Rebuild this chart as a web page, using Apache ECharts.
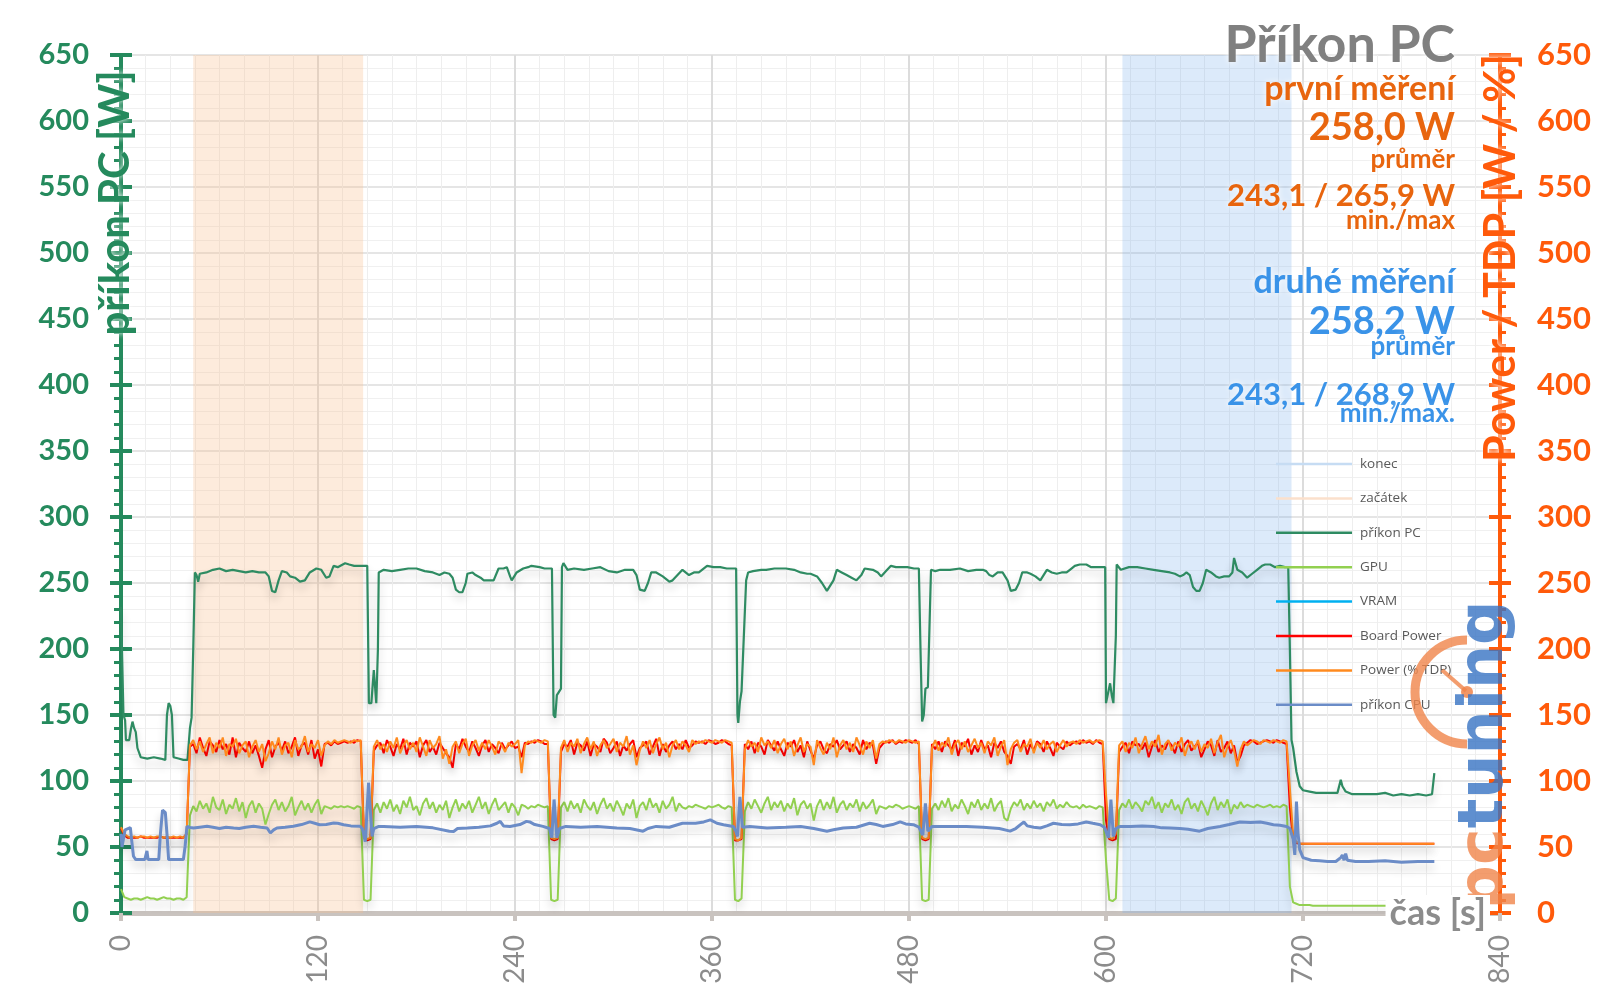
<!DOCTYPE html>
<html>
<head>
<meta charset="utf-8">
<script src="https://cdn.jsdelivr.net/npm/echarts@6/dist/echarts.min.js"></script>
<style>
html,body{margin:0;padding:0;background:#fff;}
#chart{width:1600px;height:1008px;}
</style>
</head>
<body>
<div id="chart"></div>
<script>
// ---- DATA ----
const sampleStep = 2; // seconds between samples of the uniform series below (t = 0..800)

const powerTdp = [
65,60,58,57,58,57,58,58,57,58,
57,58,58,57,58,57,58,57,58,57,
60,127,131,124,130,122,128,133,121,129,
125,133,119,128,126,132,121,127,130,118,
126,131,122,128,115,121,130,124,133,120,
127,129,118,131,124,126,134,122,128,125,
131,119,127,130,128,131,129,130,131,130,
129,131,130,131,58,56,57,126,131,124,
128,122,130,125,133,121,127,131,124,129,
122,133,126,119,131,125,128,134,117,124,
113,126,130,121,128,132,119,127,131,123,
129,124,131,126,120,130,127,122,129,126,
128,131,106,127,130,129,131,130,129,131,
130,57,56,57,125,131,122,129,126,132,
121,128,133,124,130,119,127,131,125,128,
132,122,129,126,134,120,127,112,123,130,
125,131,121,128,133,124,129,118,127,131,
124,130,127,122,131,128,130,129,131,130,
129,131,130,129,131,130,129,56,55,57,
124,131,126,129,122,133,127,130,125,131,
121,128,132,124,130,119,127,133,122,128,
126,112,131,125,120,129,124,133,118,127,
131,124,129,122,133,127,120,130,125,131,
117,128,130,129,131,130,129,131,130,129,
131,130,129,130,57,56,57,125,131,123,
129,126,133,120,128,131,124,130,122,127,
132,125,129,121,130,127,133,119,126,131,
112,124,129,131,122,128,126,132,121,129,
125,131,124,128,130,122,127,131,126,129,
130,128,131,129,130,131,129,130,131,130,
90,57,56,60,127,130,122,129,125,133,
121,128,134,124,130,126,135,120,128,131,
123,129,126,133,119,127,130,124,131,122,
128,125,132,121,129,135,118,126,131,123,
111,124,130,127,129,131,130,128,131,130,
129,131,130,129,131,130,95,58,54,52.5,
52.5,52.5,52.5,52.5,52.5,52.5,52.5,52.5,52.5,52.5,
52.5,52.5,52.5,52.5,52.5,52.5,52.5,52.5,52.5,52.5,
52.5,52.5,52.5,52.5,52.5,52.5,52.5,52.5,52.5,52.5,
52.5,52.5,52.5,52.5,52.5,52.5,52.5,52.5,52.5,52.5,
52.5
];

const boardPower = [
64,59,57,57,57,57,58,57,57,57,
57,57,58,57,57,57,57,57,57,57,
60,126,128,121,133,125,119,130,127,122,
131,124,128,120,133,118,129,125,122,130,
121,127,119,110,124,131,118,126,129,123,
130,121,126,133,119,127,129,120,131,117,
124,111,128,129,127,130,128,129,130,129,
130,129,131,130,57,55,56,123,127,129,
121,131,126,119,128,124,132,120,129,126,
130,118,127,131,122,126,120,129,125,121,
118,110,128,124,132,126,122,130,125,119,
127,131,122,128,125,121,129,124,127,130,
125,126,118,129,128,130,129,131,130,128,
128,56,55,56,122,128,126,131,120,129,
127,123,130,119,128,126,122,132,129,121,
125,130,119,127,123,128,131,118,125,127,
130,120,126,132,119,128,122,127,130,124,
128,124,131,125,127,130,129,130,128,131,
130,128,129,131,130,128,127,55,55,56,
128,124,130,121,129,126,120,131,127,123,
130,124,119,129,126,131,122,127,118,130,
123,117,127,130,124,121,128,126,131,124,
127,130,122,128,125,120,131,124,129,127,
113,125,128,130,129,131,128,130,129,131,
130,129,131,128,56,55,56,128,124,130,
122,130,127,124,131,119,129,126,132,120,
127,122,131,124,127,118,129,125,130,122,
119,113,126,128,124,131,120,128,123,130,
128,122,130,125,119,129,126,124,130,127,
129,130,128,131,129,130,128,131,129,128,
70,56,55,56,122,126,129,121,130,127,
128,124,129,118,126,131,122,127,124,130,
127,121,130,122,128,131,123,126,129,118,
124,130,127,119,131,122,125,130,121,127,
114,119,127,129,131,130,128,129,130,131,
130,129,131,130,129,128,80,55,53,52.5,
52.5,52.5,52.5,52.5,52.5,52.5,52.5,52.5,52.5,52.5,
52.5,52.5,52.5,52.5,52.5,52.5,52.5,52.5,52.5,52.5,
52.5,52.5,52.5,52.5,52.5,52.5,52.5,52.5,52.5,52.5,
52.5,52.5,52.5,52.5,52.5,52.5,52.5,52.5,52.5,52.5,
52.5
];

const gpuPower = [
18,12,11,10,11,11,10,11,12,11,
11,10,11,12,11,11,10,11,11,10,
12,74,81,77,85,79,83,76,88,80,
78,86,75,82,79,87,77,84,72,81,
85,76,83,79,67,75,82,86,78,84,
77,81,88,74,80,85,78,83,76,82,
86,75,81,80,79,81,80,81,80,81,
80,79,81,80,10,9,10,78,83,76,
84,79,86,77,82,75,85,80,88,78,
81,74,83,87,79,84,76,82,78,85,
72,80,86,77,83,79,85,76,82,88,
79,84,75,82,87,78,81,84,76,83,
80,74,82,81,79,81,80,82,81,80,
81,10,9,10,80,84,77,85,79,83,
76,86,81,78,84,75,82,87,79,83,
77,85,80,74,83,79,86,72,81,84,
78,87,80,83,76,85,79,82,88,77,
83,80,79,81,80,82,81,80,79,81,
80,81,82,80,79,81,80,10,9,11,
77,84,79,86,81,76,83,88,78,84,
80,85,77,83,79,87,74,82,85,79,
83,70,81,86,78,84,79,88,76,82,
85,78,83,80,86,77,84,79,82,86,
75,81,80,79,81,80,82,81,79,80,
81,80,79,81,10,9,10,79,83,78,
85,80,87,77,82,79,86,81,75,84,
80,86,78,83,79,87,77,82,85,72,
70,79,84,81,86,78,83,79,85,80,
83,77,84,81,86,79,82,80,84,81,
80,81,79,82,80,81,80,79,81,80,
40,10,9,11,78,83,80,86,79,84,
81,77,85,82,88,79,84,76,83,80,
86,78,82,75,84,87,79,83,77,85,
80,74,83,88,78,84,80,86,75,82,
79,84,80,82,81,80,82,81,80,81,
82,80,81,80,82,81,20,8,7,6,
6,6,6,5.5,5.5,5.5,5.5,5.5,5.5,5.5,
5.5,5.5,5.5,5.5,5.5,5.5,5.5,5.5,5.5,5.5,
5.5,5.5,5.5,5.5,5.5,5.5,5.5,5.5,5.5,5.5,
5.5,5.5,5.5,5.5,5.5,5.5,5.5,5.5,5.5,5.5,
5.5
];

// [time s, W]
const pcPower = [
[0,232],[1.5,150],[2.5,146],[3,131],[5,131],[6,139],[7,145],[8,140],[9,137],[10,125],[12,118],[16,117],[20,118],[24,117],[27,116],[28,150],[29,159],[30,157],[31,150],[32,118],[35,117],[38,116],[40.5,116],[42,140],[43,148],[44,200],[45,258],[46,256],[47,251],[48,257],[52,258],[56,260],[60,261],[64,259],[68,260],[72,259],[76,258],[80,259],[84,258],[88,258],[90,255],[92,244],[94,243],[96,252],[98,259],[101,258],[103,255],[106,254],[109,251],[112,252],[115,258],[119,261],[122,260],[125,254],[127,255],[129.5,263],[132,262],[136.5,265],[139,264],[142,263],[146,263],[150,263],[151,159],[152.5,159],[154,184],[155.5,159],[156.5,200],[157,258],[160,260],[165,259],[170,260],[175,261],[180,261],[185,259],[190,258],[194,256],[197,258],[200,257],[202,254],[204,245],[206,243],[208,243],[210,250],[211,257],[214,258],[216,256],[219,254],[221,252],[224,252],[227,252],[230,261],[233,261],[235,262],[237,255],[238,252],[240,256],[241,258],[245,261],[248,262],[250,263],[255,262],[258,261],[262.5,261],[263.5,150],[264.5,148],[265.5,165],[266.5,167],[268,170],[268.6,262],[269.5,265],[272,260],[276,261],[282,260],[287,261],[292,262],[297,259],[302,258],[307,260],[312,260],[314,256],[316,245],[319,244],[321,250],[323,258],[326,258],[330,255],[334,251],[336,252],[339,256],[342,260],[346,256],[349,258],[352,258],[357,263],[361,262],[365,262],[369,261],[374.7,261],[375.5,150],[376,144],[377,160],[378,168],[379,168],[380.8,252],[382,258],[385,259],[390,260],[393,260],[398,261],[405,261],[410,260],[414,258],[418,257],[420,257],[424,255],[427,250],[430,244],[432,248],[434,252],[436,260],[439,258],[442,256],[445,254],[448,252],[451,256],[453,261],[458,260],[461,258],[463,255],[466,259],[469,263],[472,262],[476,262],[479,262],[483,261],[486,261],[487,200],[488,145],[489,150],[490,170],[491.5,171],[493.4,260],[496,259],[499,260],[505,260],[511,261],[516,259],[521,260],[525,260],[527,259],[529,256],[531,255],[534,258],[537,258],[540,252],[542,244],[545,245],[547,250],[549,258],[552,258],[554,257],[557,255],[560,252],[562,256],[564,260],[567,258],[570,257],[573,258],[576,258],[578,260],[581,263],[584,264],[588,264],[591,262],[594,262],[599.5,262],[600,159],[601,159],[602.5,174],[603.5,165],[604.5,159],[605.5,159],[606,210],[606.5,264],[609,260],[614,262],[619,262],[624,261],[629,260],[634,259],[639,258],[642,257],[645,255],[647,256],[649,258],[651,256],[653,247],[655,244],[657,244],[659,250],[661,260],[664,258],[667,255],[669,254],[672,255],[675,255],[677,258],[678,269],[679,268],[680,260],[683,258],[686,254],[689,257],[692,260],[695,263],[697,264],[700,264],[703,262],[706,263],[709,262],[711,262],[712,200],[713,131],[714,125],[716,107],[718,96],[720,93],[724,92],[728,91],[732,91],[736,91],[741,91],[742,96],[743,101],[744,96],[746,92],[750,90],[755,90],[760,90],[765,90],[770,91],[775,89],[780,90],[785,89],[790,90],[795,89],[798.6,90],[800,106]
];

const cpuPower = [
[0,60],[0.6,50],[2.5,63],[5.7,64.6],[6.5,55],[7.6,43],[9,40.5],[12.8,40.5],[14.5,40.5],[15.8,47],[16.5,40.5],[20,40.5],[23,40.5],[24,60],[25.3,78],[27,76],[28,60],[29,40.5],[33,40.5],[38,40.5],[39,50],[40.2,65.6],[42,64.8],[44.2,64.4],[48,65],[52.4,65.7],[56,65],[60,64],[64,65],[68.6,64.4],[72,64],[76,65],[80.8,65.7],[85,65],[89,64.4],[91,60.6],[93,63],[95,64.4],[100,65],[105,65.7],[110,67],[115,69],[118,68],[121,66.9],[125,67],[129.5,68.2],[132,68],[135.6,66.9],[140,66],[145.7,65.7],[147,64],[148.8,54],[150.8,98.7],[152.9,58],[154,64],[157,65.6],[160,65.6],[170,65],[180,65.5],[190,64.5],[200,62],[202.6,61.8],[205,64],[211,64.4],[218,65],[225,66],[229,68],[231,69.4],[233,66],[237,65.6],[243,67],[247,69.4],[249,69],[252,67],[257,65.6],[261,64],[262.4,57],[263.8,86],[265.5,57],[267,64],[271,65.6],[280,65],[290,65.5],[302,64.4],[310,64],[318,62],[321,64],[326,65.6],[334,65],[342,68],[350,68],[355,69],[359,70.6],[363,68],[367,66.9],[373,65.6],[374.5,62],[375.5,58],[377,88],[378.5,65],[383,65.6],[393.5,64.4],[405,65],[414,65.6],[422,64],[430,62],[434,63],[440,64.4],[448,65],[456,68],[460,67],[464,65.6],[470,67],[474.6,69],[478,67.5],[482.7,66.9],[486,65],[488.4,59],[490,83],[491.5,62],[494,65.6],[500,65.6],[515,65.6],[525,65],[535,64],[541.6,62],[545,64],[550,69],[552,66],[556,65],[560,64.4],[564,66],[568,68],[573,67],[578,66.9],[583,67.5],[588,69],[592,68],[596.5,66.9],[599,65],[601.5,57],[603,86],[604.5,58],[606,64],[608.6,65.6],[615,65.6],[622,66],[629,65.6],[634,64.5],[639,64.4],[645,64],[650,63.5],[657,62],[662,64],[669.5,65.6],[675,67],[681.6,69],[688,68.5],[694,69],[698,68],[702,66.9],[706,66.5],[710,65.6],[712,64],[714,56],[715,44],[716,84.5],[717,60],[718,48],[720,42],[725,40],[730,39.5],[735,39],[740,39],[743,42],[744,44],[745,40],[746,45],[747,40],[752,39],[760,39],[770,39.5],[780,38.5],[790,39],[800,39]
];

const startBand = [44, 147.5];  // "začátek"
const endBand = [610, 713];     // "konec"

const legendNames = ['konec', 'začátek', 'příkon PC', 'GPU', 'VRAM', 'Board Power', 'Power (% TDP)', 'příkon CPU'];

const firstRun = ['první měření', '258,0 W', 'průměr', '243,1 / 265,9 W', 'min./max'];
const secondRun = ['druhé měření', '258,2 W', 'průměr', '243,1 / 268,9 W', 'min./max.'];

// ---- BUILD ----
function uniform(arr) { return arr.map((v, i) => [i * sampleStep, v]); }

const GREEN = '#258a5d';
const ORANGE = '#ff5a0a';
const ANN_OR = '#e8650e';
const ANN_BL = '#3a93e8';
const FONT = 'Lato, "Open Sans", sans-serif';

const shadow = { shadowColor: 'rgba(0,0,0,0.2)', shadowBlur: 9, shadowOffsetY: 6 };

function lineSeries(name, data, color, width, yIdx) {
  return {
    name, type: 'line', data, yAxisIndex: yIdx || 0,
    symbol: 'none', showSymbol: false, smooth: false,
    lineStyle: Object.assign({ color, width }, shadow),
    itemStyle: { color }, animation: false
  };
}

const chart = echarts.init(document.getElementById('chart'), null, { renderer: 'canvas' });

const glow = { textShadowColor: '#ffffff', textShadowBlur: 6 };

function annText(text, y, size, color) {
  return {
    type: 'text', x: 1455, y, z: 50,
    style: Object.assign({ text, fill: color, font: 'bold ' + size + 'px ' + FONT, align: 'right', verticalAlign: 'middle' }, glow)
  };
}

const option = {
  backgroundColor: '#ffffff',
  animation: false,
  grid: { left: 121, right: 100, top: 55, bottom: 95, containLabel: false },
  legend: {
    orient: 'vertical', left: 1271, top: 452,
    icon: 'rect', itemWidth: 76, itemHeight: 2.5, itemGap: 20.4,
    data: legendNames,
    textStyle: { color: '#595959', fontSize: 13.5, lineHeight: 14, fontFamily: '"Open Sans", sans-serif', padding: [0, 0, 0, 3] }
  },
  xAxis: {
    type: 'value', min: 0, max: 840, interval: 120,
    axisLine: { show: true, onZero: false, lineStyle: { color: '#c9c3bf', width: 5 } },
    axisTick: { show: true, length: 8, lineStyle: { color: '#c9c3bf', width: 4 } },
    minorTick: { show: true, splitNumber: 8, length: 0 },
    axisLabel: { rotate: 90, margin: 22, color: '#8c8c8c', fontSize: 28, fontFamily: FONT },
    splitLine: { show: true, lineStyle: { color: '#dcdcdc', width: 2 } },
    minorSplitLine: { show: true, lineStyle: { color: '#eeeeee', width: 1 } }
  },
  yAxis: [
    {
      type: 'value', min: 0, max: 650, interval: 50, position: 'left',
      axisLine: { show: true, lineStyle: { color: GREEN, width: 4 } },
      axisTick: { show: true, length: 11, lineStyle: { color: GREEN, width: 4 } },
      minorTick: { show: true, splitNumber: 5, length: 7, lineStyle: { color: GREEN, width: 3 } },
      axisLabel: { margin: 32, color: GREEN, fontSize: 29, fontWeight: 'bold', fontFamily: FONT },
      splitLine: { show: true, lineStyle: { color: '#dcdcdc', width: 1.5 } },
      minorSplitLine: { show: true, lineStyle: { color: '#f0f0f0', width: 1 } }
    },
    {
      type: 'value', min: 0, max: 650, interval: 50, position: 'right',
      axisLine: { show: true, lineStyle: { color: ORANGE, width: 4 } },
      axisTick: { show: true, length: 11, lineStyle: { color: ORANGE, width: 4 } },
      minorTick: { show: true, splitNumber: 5, length: 6, lineStyle: { color: ORANGE, width: 3 } },
      axisLabel: { margin: 37, color: ORANGE, fontSize: 31, fontWeight: 'bold', fontFamily: FONT },
      splitLine: { show: false }
    },
    {
      type: 'value', min: 0, max: 650, interval: 50, position: 'left',
      axisLine: { show: false }, axisLabel: { show: false }, splitLine: { show: false },
      axisTick: { show: true, inside: true, length: 11, lineStyle: { color: GREEN, width: 4 } }
    },
    {
      type: 'value', min: 0, max: 650, interval: 50, position: 'right',
      axisLine: { show: false }, axisLabel: { show: false }, splitLine: { show: false },
      axisTick: { show: true, inside: true, length: 11, lineStyle: { color: ORANGE, width: 4 } }
    }
  ],
  series: [
    {
      name: 'konec', type: 'line', data: [], symbol: 'none',
      lineStyle: { color: '#c6dcf3', width: 3 }, itemStyle: { color: '#c6dcf3' },
      markArea: { silent: true, itemStyle: { color: 'rgba(120,175,235,0.26)' }, data: [[{ xAxis: endBand[0] }, { xAxis: endBand[1] }]] }
    },
    {
      name: 'začátek', type: 'line', data: [], symbol: 'none',
      lineStyle: { color: '#fbe0cc', width: 3 }, itemStyle: { color: '#fbe0cc' },
      markArea: { silent: true, itemStyle: { color: 'rgba(248,190,140,0.3)' }, data: [[{ xAxis: startBand[0] }, { xAxis: startBand[1] }]] }
    },
    lineSeries('příkon PC', pcPower, '#2e8b62', 2.2, 0),
    lineSeries('GPU', uniform(gpuPower), '#92d050', 2, 0),
    lineSeries('VRAM', [], '#00b0f0', 2, 0),
    lineSeries('Board Power', uniform(boardPower), '#ff0000', 2, 1),
    lineSeries('Power (% TDP)', uniform(powerTdp), '#ff8a1e', 2, 1),
    lineSeries('příkon CPU', cpuPower, '#6b8cc7', 3, 0)
  ],
  graphic: [
    // watermark logo
    {
      type: 'arc', z: 40,
      shape: { cx: 1467, cy: 692, r: 52, startAngle: Math.PI / 2, endAngle: Math.PI * 1.5, clockwise: true },
      style: { stroke: 'rgba(240,132,74,0.8)', lineWidth: 9, fill: null }
    },
    {
      type: 'line', z: 40,
      shape: { x1: 1442, y1: 670, x2: 1466, y2: 691 },
      style: { stroke: 'rgba(240,132,74,0.8)', lineWidth: 4 }
    },
    { type: 'circle', z: 40, shape: { cx: 1467, cy: 692, r: 6 }, style: { fill: 'rgba(240,132,74,0.85)' } },
    {
      type: 'text', z: 41, x: 1486, y: 755, rotation: Math.PI / 2,
      style: {
        text: '{a|pc}{b|tuning}', align: 'center', verticalAlign: 'middle',
        rich: {
          a: { fill: 'rgba(240,132,74,0.8)', font: 'bold 62px "DejaVu Sans", sans-serif' },
          b: { fill: 'rgba(55,115,195,0.8)', font: 'bold 62px "DejaVu Sans", sans-serif' }
        }
      }
    },
    // axis names
    {
      type: 'text', z: 30, x: 115, y: 203, rotation: Math.PI / 2,
      style: Object.assign({ text: 'příkon PC [W]', fill: GREEN, font: 'bold 42px ' + FONT, align: 'center', verticalAlign: 'middle' }, glow)
    },
    {
      type: 'text', z: 30, x: 1501, y: 258, rotation: Math.PI / 2,
      style: Object.assign({ text: 'Power / TDP [W / %]', fill: ORANGE, font: 'bold 43px ' + FONT, align: 'center', verticalAlign: 'middle' }, glow)
    },
    {
      type: 'text', z: 45, x: 1490, y: 913,
      style: { text: 'čas [s]', fill: '#8c8c8c', font: 'bold 36px ' + FONT, align: 'right', verticalAlign: 'middle', backgroundColor: '#ffffff', padding: [0, 4, 0, 4] }
    },
    // title & annotations
    annText('Příkon PC', 45, 52, '#808080'),
    annText(firstRun[0], 89, 34, ANN_OR),
    annText(firstRun[1], 128, 38, ANN_OR),
    annText(firstRun[2], 160, 26, ANN_OR),
    annText(firstRun[3], 196, 31, ANN_OR),
    annText(firstRun[4], 221, 26, ANN_OR),
    annText(secondRun[0], 282, 34, ANN_BL),
    annText(secondRun[1], 322, 38, ANN_BL),
    annText(secondRun[2], 347, 26, ANN_BL),
    annText(secondRun[3], 395, 31, ANN_BL),
    annText(secondRun[4], 414, 26, ANN_BL)
  ]
};

chart.setOption(option);
</script>
</body>
</html>
